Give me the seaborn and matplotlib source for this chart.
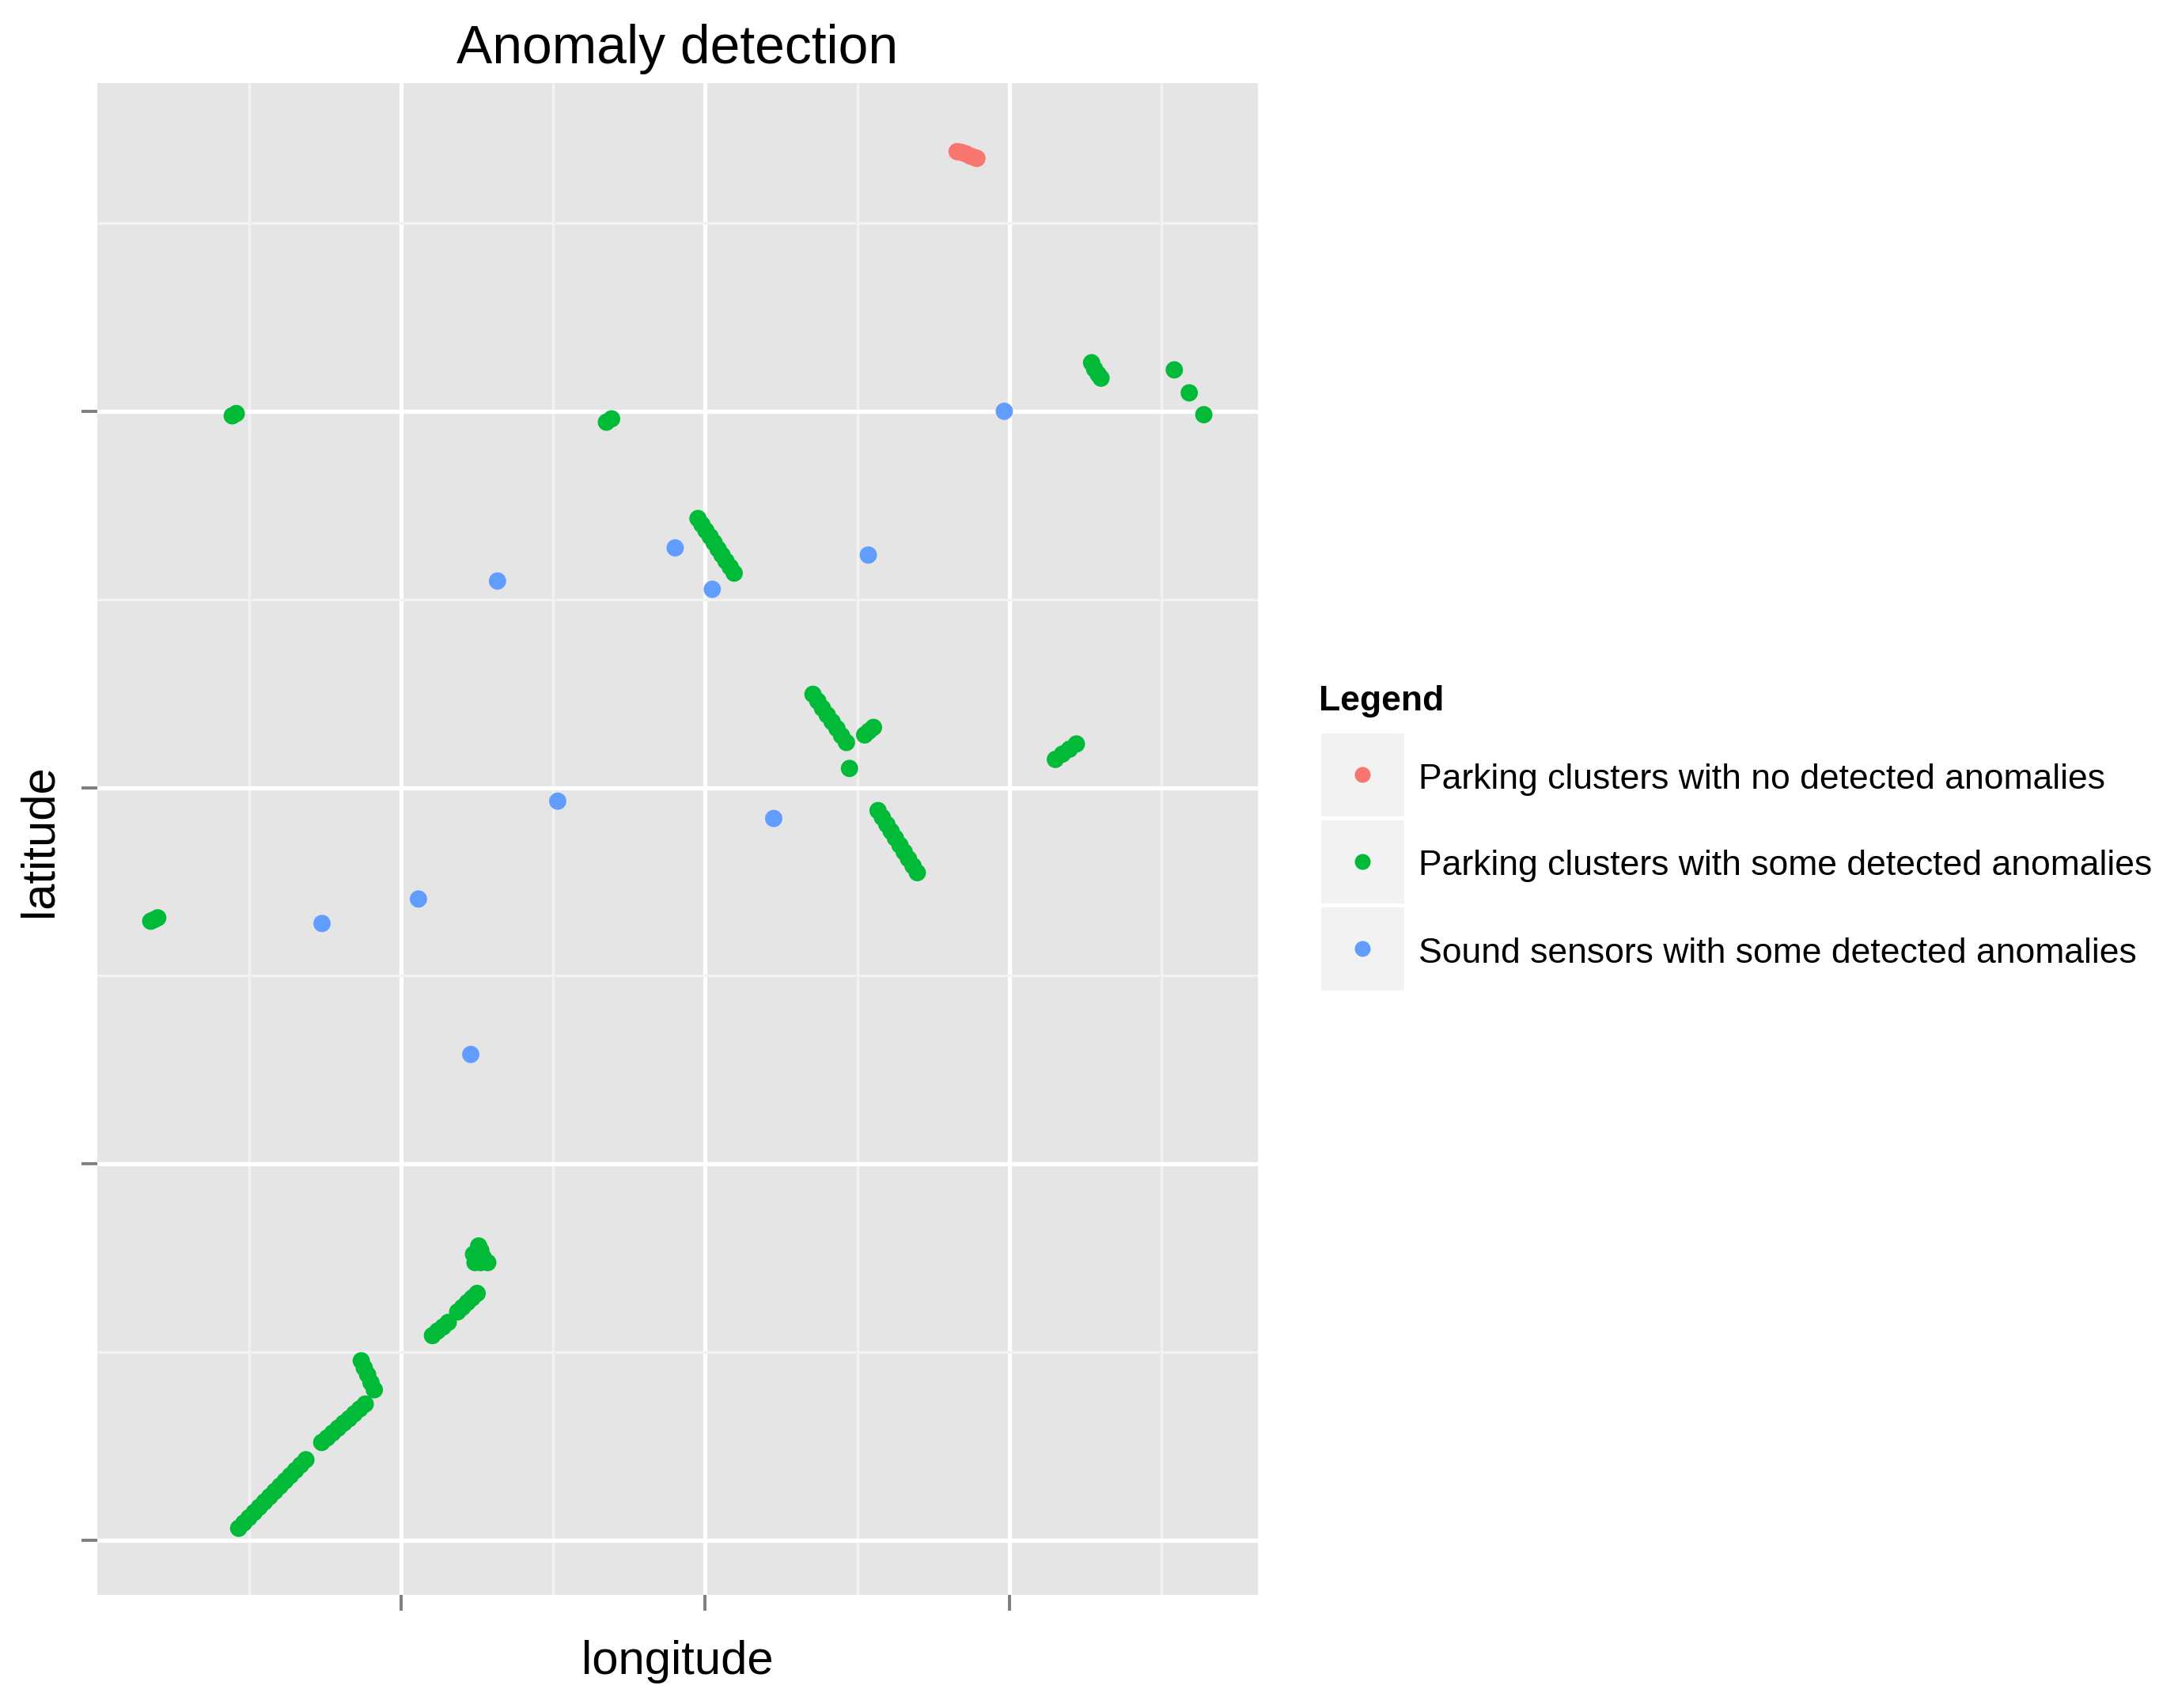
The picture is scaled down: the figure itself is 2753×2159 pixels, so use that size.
import matplotlib
matplotlib.use("Agg")
import matplotlib.pyplot as plt
from matplotlib.lines import Line2D
from matplotlib.patches import Rectangle
from matplotlib.ticker import MultipleLocator, NullFormatter
import pandas as pd
import seaborn as sns

# Data (axis units: major grid = 1, no tick labels shown)
red_lon = [2.828, 2.842, 2.857, 2.872, 2.886, 2.893]
red_lat = [4.690, 4.688, 4.684, 4.678, 4.674, 4.672]

green_lon = [
    # long bottom-left line
    0.466, 0.483, 0.500, 0.517, 0.534, 0.551, 0.568, 0.585, 0.602, 0.619, 0.636, 0.653, 0.670, 0.687,
    0.739, 0.757, 0.775, 0.793, 0.811, 0.829, 0.846, 0.864, 0.882,
    0.869, 0.879, 0.890, 0.901, 0.912,
    1.103, 1.120, 1.138, 1.155,
    1.186, 1.202, 1.218, 1.234, 1.250,
    1.255, 1.262, 1.238, 1.250, 1.270, 1.243, 1.262, 1.285,
    # isolated clusters
    0.177, 0.188, 0.200,
    0.445, 0.458,
    1.675, 1.692,
    3.270, 3.280, 3.292, 3.301,
    3.542, 3.591, 3.639,
    # centre lines
    1.976, 1.989, 2.002, 2.016, 2.029, 2.042, 2.055, 2.068, 2.082, 2.095,
    2.354, 2.370, 2.385, 2.401, 2.417, 2.433, 2.448, 2.464,
    2.524, 2.538, 2.553,
    2.474,
    3.151, 3.174, 3.197, 3.220,
    2.568, 2.582, 2.597, 2.611, 2.625, 2.640, 2.654, 2.668, 2.683, 2.697,
]
green_lat = [
    1.032, 1.046, 1.060, 1.074, 1.088, 1.102, 1.116, 1.130, 1.144, 1.158, 1.172, 1.186, 1.200, 1.214,
    1.260, 1.272, 1.285, 1.298, 1.311, 1.323, 1.336, 1.349, 1.362,
    1.477, 1.458, 1.440, 1.419, 1.400,
    1.544, 1.556, 1.567, 1.579,
    1.607, 1.619, 1.632, 1.644, 1.656,
    1.782, 1.770, 1.760, 1.750, 1.752, 1.738, 1.738, 1.738,
    2.645, 2.649, 2.654,
    3.988, 3.994,
    3.971, 3.980,
    4.129, 4.112, 4.098, 4.088,
    4.110, 4.049, 3.991,
    3.715, 3.699, 3.683, 3.667, 3.651, 3.634, 3.618, 3.602, 3.586, 3.570,
    3.248, 3.230, 3.211, 3.193, 3.175, 3.157, 3.138, 3.120,
    3.140, 3.150, 3.160,
    3.051,
    3.075, 3.089, 3.102, 3.116,
    2.939, 2.921, 2.902, 2.884, 2.866, 2.847, 2.829, 2.811, 2.792, 2.774,
]

blue_lon = [2.983, 1.901, 2.023, 2.536, 1.317, 1.515, 2.225, 1.057, 0.740, 1.229]
blue_lat = [4.000, 3.637, 3.527, 3.618, 3.549, 2.964, 2.918, 2.704, 2.639, 2.291]

labels = [
    "Parking clusters with no detected anomalies",
    "Parking clusters with some detected anomalies",
    "Sound sensors with some detected anomalies",
]
colors = ["#F8766D", "#00BA38", "#619CFF"]

df = pd.DataFrame({
    "longitude": red_lon + green_lon + blue_lon,
    "latitude": red_lat + green_lat + blue_lat,
    "kind": [labels[0]] * len(red_lon) + [labels[1]] * len(green_lon) + [labels[2]] * len(blue_lon),
})

sns.set_style("white")
plt.rcParams["font.family"] = ["Liberation Sans", "DejaVu Sans"]
plt.rcParams["text.color"] = "black"
plt.rcParams["axes.labelcolor"] = "black"

fig = plt.figure(figsize=(13.765, 10.795), dpi=200)
ax = fig.add_axes([0.04468, 0.06624, 0.5329, 0.8851])

sns.scatterplot(data=df, x="longitude", y="latitude", hue="kind",
                palette=dict(zip(labels, colors)), s=62, linewidth=0,
                legend=False, ax=ax, zorder=3)

# ggplot-like panel
ax.set_facecolor("#E5E5E5")
for s in ax.spines.values():
    s.set_visible(False)
ax.set_xlim(0.0013, 3.817)
ax.set_ylim(0.855, 4.872)
ax.xaxis.set_major_locator(MultipleLocator(1))
ax.yaxis.set_major_locator(MultipleLocator(1))
ax.xaxis.set_minor_locator(MultipleLocator(0.5))
ax.yaxis.set_minor_locator(MultipleLocator(0.5))
ax.xaxis.set_major_formatter(NullFormatter())
ax.yaxis.set_major_formatter(NullFormatter())
ax.grid(which="major", color="white", linewidth=1.9)
ax.grid(which="minor", color="#F2F2F2", linewidth=1.2)
ax.set_axisbelow(True)
ax.tick_params(which="major", length=7.2, width=1.4, color="#7F7F7F", direction="out",
               bottom=True, left=True)
ax.tick_params(which="minor", length=0)

ax.set_title("Anomaly detection", fontsize=24.4, pad=9, color="black")
ax.set_xlabel("longitude", fontsize=21.5)
ax.set_ylabel("latitude", fontsize=21.5)
ax.xaxis.label.set_verticalalignment("baseline")
ax.xaxis.set_label_coords(0.5, -0.0524)
ax.yaxis.label.set_verticalalignment("baseline")
ax.yaxis.label.set_rotation_mode("anchor")
ax.yaxis.set_label_coords(-0.0391, 0.499)

# legend drawn by hand (ggplot style keys)
fig.text(0.6055, 0.5841, "Legend", fontsize=16, fontweight="bold", va="baseline")
key_bottoms = [0.5220, 0.4711, 0.4201]
for lab, col, kb in zip(labels, colors, key_bottoms):
    fig.add_artist(Rectangle((0.6066, kb), 0.03814, 0.04863, transform=fig.transFigure,
                             facecolor="#F2F2F2", edgecolor="none"))
    fig.add_artist(Line2D([0.6255], [kb + 0.02432], transform=fig.transFigure,
                          marker="o", markersize=7.2, markerfacecolor=col,
                          markeredgewidth=0, linestyle="none"))
    fig.text(0.6512, kb + 0.0164, lab, fontsize=16, va="baseline")

fig.savefig("out.png", dpi=200)
